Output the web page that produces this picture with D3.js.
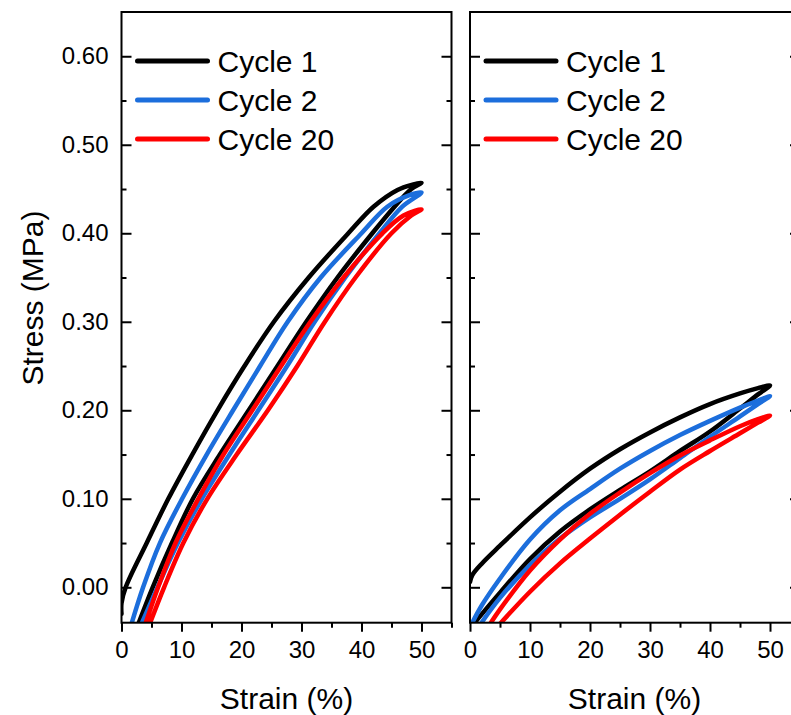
<!DOCTYPE html>
<html>
<head>
<meta charset="utf-8">
<script src="https://cdn.jsdelivr.net/npm/d3@7"></script>
<style>
  body { margin: 0; background: #fff; }
  svg { display: block; font-family: "Liberation Sans", Arial, sans-serif; }
</style>
</head>
<body>
<svg id="chart" width="791" height="715"></svg>
<script>
// cycle names + colours
var cycles = ["Cycle 1", "Cycle 2", "Cycle 20"];
var colors = ["#000000", "#1c6edc", "#ff0000"];

var strainTicks = [0, 10, 20, 30, 40, 50];
var strainMinor = [5, 15, 25, 35, 45, 55];
var stressTicks = [0, 0.1, 0.2, 0.3, 0.4, 0.5, 0.6];
var stressMinor = [0.05, 0.15, 0.25, 0.35, 0.45, 0.55];

// left panel, [strain %, stress MPa]; loading then unloading
var leftC1Load = [[0, -0.03], [0, -0.018], [0.7, 0], [4.2, 0.05], [7.8, 0.1], [11.8, 0.15], [16.0, 0.2], [20.5, 0.25], [25.4, 0.3], [31.2, 0.35], [37.8, 0.4], [42.0, 0.43], [46.0, 0.449], [48.5, 0.455], [50, 0.457]];
var leftC1Unload = [[50, 0.457], [48.3, 0.45], [45.5, 0.43], [41.8, 0.4], [36.0, 0.35], [30.8, 0.3], [26.0, 0.25], [21.2, 0.2], [16.4, 0.15], [11.9, 0.1], [8.4, 0.05], [5.2, 0], [2.6, -0.045]];
var leftC2Load = [[1.5, -0.045], [3.6, 0], [6.4, 0.05], [10.1, 0.1], [14.2, 0.15], [18.6, 0.2], [23.1, 0.25], [27.7, 0.3], [33.2, 0.35], [40.0, 0.4], [44.3, 0.43], [48, 0.443], [50, 0.446]];
var leftC2Unload = [[50, 0.446], [46.8, 0.43], [43.0, 0.4], [37.3, 0.35], [32.2, 0.3], [27.6, 0.25], [22.8, 0.2], [18.0, 0.15], [13.4, 0.1], [9.4, 0.05], [6.0, 0], [3.1, -0.045]];
var leftC20Load = [[3.8, -0.045], [6.1, 0], [9.0, 0.05], [12.8, 0.1], [17.0, 0.15], [21.8, 0.2], [26.6, 0.25], [31.5, 0.3], [37.0, 0.35], [43.5, 0.4], [47.0, 0.42], [50, 0.427]];
var leftC20Unload = [[50, 0.427], [48.3, 0.42], [45.0, 0.4], [39.0, 0.35], [33.9, 0.3], [29.3, 0.25], [24.4, 0.2], [19.2, 0.15], [14.3, 0.1], [10.3, 0.05], [7.1, 0], [4.5, -0.045]];

// right panel
var rightC1Load = [[0, 0.006], [0.4, 0.014], [2, 0.027], [5, 0.047], [10, 0.079], [15, 0.108], [20, 0.134], [25, 0.156], [30, 0.175], [35, 0.192], [40, 0.207], [45, 0.219], [48, 0.225], [50, 0.228]];
var rightC1Unload = [[50, 0.228], [48, 0.218], [45, 0.202], [40, 0.176], [35, 0.154], [30, 0.131], [25, 0.11], [20, 0.088], [15, 0.063], [10, 0.032], [5, -0.006], [2, -0.03], [0.2, -0.045]];
var rightC2Load = [[0, -0.045], [2, -0.02], [5, 0.01], [10, 0.054], [15, 0.087], [20, 0.111], [25, 0.134], [30, 0.154], [35, 0.172], [40, 0.188], [45, 0.203], [48, 0.211], [50, 0.216]];
var rightC2Unload = [[50, 0.216], [48, 0.207], [45, 0.193], [40, 0.17], [35, 0.146], [30, 0.122], [25, 0.1], [20, 0.079], [15, 0.055], [10, 0.025], [5, -0.012], [1.4, -0.045]];
var rightC20Load = [[3, -0.045], [5, -0.025], [10, 0.019], [15, 0.054], [20, 0.083], [25, 0.107], [30, 0.129], [35, 0.149], [40, 0.166], [45, 0.182], [48, 0.19], [50, 0.194]];
var rightC20Unload = [[50, 0.194], [48, 0.186], [45, 0.174], [40, 0.154], [35, 0.133], [30, 0.108], [25, 0.082], [20, 0.055], [15, 0.027], [10, -0.005], [4.5, -0.045]];

var panels = [
  { x0: 121.5, x1: 451.5, labels: true,
    loops: [[leftC1Load, leftC1Unload], [leftC2Load, leftC2Unload], [leftC20Load, leftC20Unload]] },
  { x0: 470, x1: 800, labels: false,
    loops: [[rightC1Load, rightC1Unload], [rightC2Load, rightC2Unload], [rightC20Load, rightC20Unload]] }
];

var svg = d3.select("#chart");
var plotTop = 12, plotBottom = 622.7;

var y = d3.scaleLinear().domain([-0.04, 0.65]).range([plotBottom, plotTop]);

panels.forEach(function (p, i) {
  var x = d3.scaleLinear().domain([0, 55]).range([p.x0, p.x1]);
  var g = svg.append("g");

  g.append("clipPath").attr("id", "clip" + i)
    .append("rect")
    .attr("x", p.x0).attr("y", plotTop)
    .attr("width", p.x1 - p.x0).attr("height", plotBottom - plotTop);

  var line = d3.line()
    .x(function (d) { return x(d[0]); })
    .y(function (d) { return y(d[1]); })
    .curve(d3.curveCatmullRom.alpha(0.5));

  g.append("g").attr("clip-path", "url(#clip" + i + ")")
    .selectAll("path")
    .data(p.loops)
    .join("path")
    .attr("d", function (d) { return line(d[0].concat(d[1].slice(1))); })
    .attr("fill", "none")
    .attr("stroke", function (d, k) { return colors[k]; })
    .attr("stroke-width", 4.5)
    .attr("stroke-linejoin", "round")
    .attr("stroke-linecap", "round");

  // axes
  g.append("g").attr("transform", "translate(" + p.x0 + ",0)")
    .call(d3.axisLeft(y).tickValues(stressTicks).tickSize(-10).tickPadding(13)
      .tickFormat(p.labels ? d3.format(".2f") : ""));
  g.append("g").attr("transform", "translate(" + p.x0 + ",0)")
    .call(d3.axisLeft(y).tickValues(stressMinor).tickSize(-5).tickFormat(""));
  g.append("g").attr("transform", "translate(" + p.x1 + ",0)")
    .call(d3.axisRight(y).tickValues(stressTicks).tickSize(-10).tickFormat(""));
  g.append("g").attr("transform", "translate(" + p.x1 + ",0)")
    .call(d3.axisRight(y).tickValues(stressMinor).tickSize(-5).tickFormat(""));
  g.append("g").attr("transform", "translate(0," + plotBottom + ")")
    .call(d3.axisBottom(x).tickValues(strainTicks).tickSize(9).tickPadding(9)
      .tickFormat(d3.format("d")));
  g.append("g").attr("transform", "translate(0," + plotBottom + ")")
    .call(d3.axisBottom(x).tickValues(strainMinor).tickSize(5).tickFormat(""));

  g.selectAll(".domain").remove();
  g.selectAll(".tick line").attr("stroke", "#000").attr("stroke-width", 2);
  g.selectAll(".tick text").attr("font-size", 24).attr("fill", "#000")
    .attr("font-family", "Liberation Sans, Arial, sans-serif");

  g.append("rect")
    .attr("x", p.x0).attr("y", plotTop)
    .attr("width", p.x1 - p.x0).attr("height", plotBottom - plotTop)
    .attr("fill", "none").attr("stroke", "#000").attr("stroke-width", 2);

  g.append("text")
    .attr("x", (p.x0 + p.x1) / 2 - (i ? 0.5 : 0)).attr("y", 709)
    .attr("text-anchor", "middle").attr("font-size", 30)
    .text("Strain (%)");

  // legend
  var leg = g.append("g").attr("transform", "translate(" + (p.x0 + 15) + ",61)");
  var item = leg.selectAll("g").data(cycles).join("g")
    .attr("transform", function (d, k) { return "translate(0," + k * 39 + ")"; });
  item.append("line").attr("x1", 1).attr("x2", 71)
    .attr("stroke", function (d, k) { return colors[k]; })
    .attr("stroke-width", 5).attr("stroke-linecap", "round");
  item.append("text").attr("x", 81).attr("dy", "0.35em")
    .attr("font-size", 30).text(function (d) { return d; });
});

svg.append("text")
  .attr("transform", "translate(43,298) rotate(-90)")
  .attr("text-anchor", "middle").attr("font-size", 30)
  .text("Stress (MPa)");
</script>
</body>
</html>
